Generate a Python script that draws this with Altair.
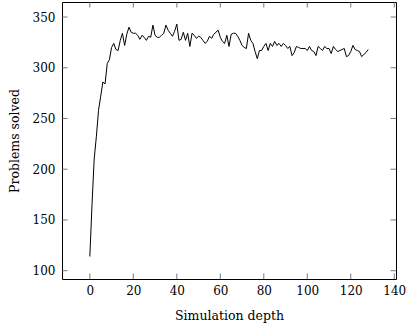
import altair as alt
import pandas as pd

depth = list(range(0, 129))
solved = [
    114, 165, 210, 232, 258, 272, 286, 284, 304, 308,
    320, 324, 318, 317, 327, 334, 322, 333, 340, 335,
    334, 334, 332, 328, 332, 330, 327, 331, 330, 342,
    332, 330, 330, 332, 334, 342, 337, 334, 331, 336,
    343, 327, 328, 335, 327, 334, 321, 334, 332, 329,
    331, 330, 327, 324, 326, 331, 329, 333, 335, 337,
    330, 326, 324, 332, 321, 333, 334, 334, 331, 327,
    322, 320, 319, 334, 327, 324, 316, 309, 317, 317,
    321, 324, 317, 324, 321, 326, 322, 324, 321, 324,
    322, 319, 321, 312, 315, 321, 320, 319, 319, 319,
    317, 321, 317, 316, 312, 321, 319, 317, 321, 319,
    319, 314, 321, 318, 316, 317, 318, 319, 311, 312,
    316, 322, 318, 317, 316, 311, 313, 315, 318,
]
x_ticks = [0, 20, 40, 60, 80, 100, 120, 140]
y_ticks = [100, 150, 200, 250, 300, 350]

X_DOM = [-12.8, 140.8]
Y_DOM = [91.8, 364.8]
W, H = 334, 277
TL = 5.5
FONT = "DejaVu Serif"

df = pd.DataFrame({"depth": depth, "solved": solved})
xt = pd.DataFrame({"depth": x_ticks})
yt = pd.DataFrame({"solved": y_ticks})

xs = alt.Scale(domain=X_DOM, nice=False, zero=False)
ys = alt.Scale(domain=Y_DOM, nice=False, zero=False)
x_axis = alt.Axis(values=x_ticks, title="Simulation depth", ticks=False,
                  domain=False, grid=False, labelPadding=6, titlePadding=13)
y_axis = alt.Axis(values=y_ticks, title="Problems solved", ticks=False,
                  domain=False, grid=False, labelPadding=7, titlePadding=11)
X = alt.X("depth:Q", scale=xs, axis=x_axis)
Y = alt.Y("solved:Q", scale=ys, axis=y_axis)

line = alt.Chart(df).mark_line(color="black", strokeWidth=1).encode(x=X, y=Y)

tick_style = dict(color="#555555", strokeWidth=0.8)
bottom = alt.Chart(xt).mark_rule(**tick_style).encode(
    x=X, y=alt.value(H), y2=alt.value(H - TL))
top = alt.Chart(xt).mark_rule(**tick_style).encode(
    x=X, y=alt.value(0), y2=alt.value(TL))
left = alt.Chart(yt).mark_rule(**tick_style).encode(
    y=Y, x=alt.value(0), x2=alt.value(TL))
right = alt.Chart(yt).mark_rule(**tick_style).encode(
    y=Y, x=alt.value(W), x2=alt.value(W - TL))

chart = alt.layer(line, bottom, top, left, right).properties(
    width=W, height=H,
    autosize=alt.AutoSizeParams(type="none"),
    padding={"left": 62, "top": 2, "right": 13, "bottom": 45},
).configure_view(stroke="black", strokeWidth=1).configure_axis(
    labelFont=FONT, titleFont=FONT, labelFontSize=12, titleFontSize=12.5,
    labelColor="black", titleColor="black", titleFontWeight="normal",
)

chart.save("out.html", embed_options={"renderer": "svg", "actions": False})
